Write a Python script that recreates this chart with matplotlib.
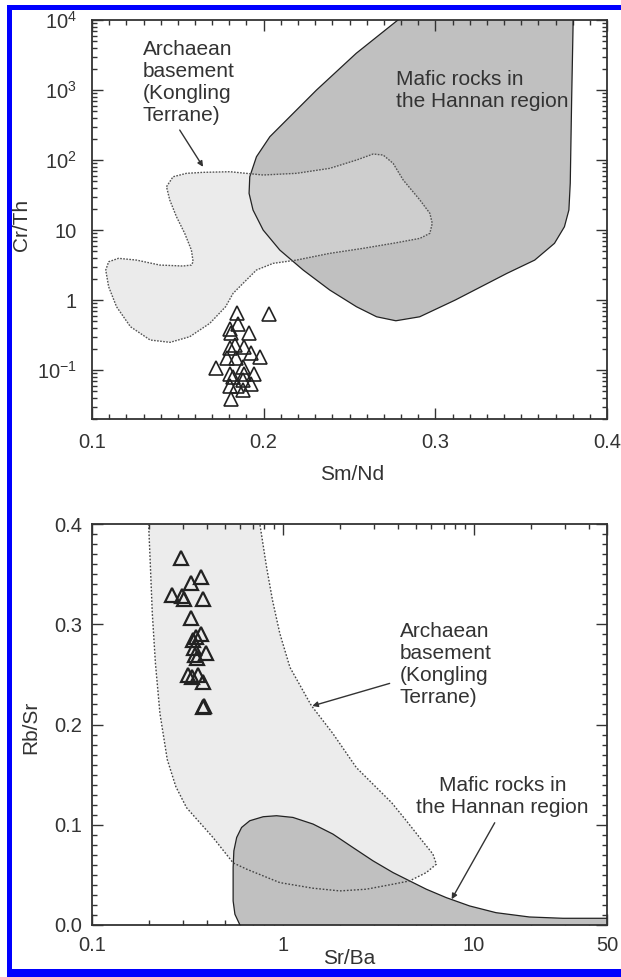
import matplotlib

matplotlib.use("Agg")
import matplotlib.pyplot as plt
import numpy as np
from matplotlib.patches import Rectangle
from matplotlib.ticker import FixedLocator, LogLocator, MultipleLocator, NullFormatter

plt.rcParams["font.family"] = ["Liberation Sans", "DejaVu Sans"]

W, H = 621, 977  # figure size in pixels (dpi 100)
INK = "#333333"
DARK_FILL = "#c0c0c0"
LIGHT_FILL = "#ececec"

# ---- Sm/Nd vs Cr/Th ----
smnd_samples = [0.1842, 0.2032, 0.1851, 0.1803, 0.1812, 0.1915, 0.1832, 0.1803, 0.1886,
                0.1929, 0.1977, 0.1789, 0.1838, 0.1721, 0.1880, 0.1803, 0.1886, 0.1944,
                0.1822, 0.1880, 0.1803, 0.1845, 0.1929, 0.1877, 0.1812]
crth_samples = [0.645, 0.625, 0.454, 0.381, 0.334, 0.334, 0.228, 0.204, 0.215,
                0.173, 0.152, 0.147, 0.147, 0.106, 0.109, 0.087, 0.087, 0.087,
                0.079, 0.072, 0.059, 0.059, 0.0625, 0.052, 0.038]

kongling_smnd = [0.1434, 0.1472, 0.1550, 0.1647, 0.1803, 0.1997, 0.2191, 0.2385, 0.2541,
                 0.2638, 0.2696, 0.2754, 0.2813, 0.2910, 0.2968, 0.2982, 0.2968, 0.2910,
                 0.2774, 0.2580, 0.2385, 0.2191, 0.2055, 0.1958, 0.1880, 0.1822, 0.1778,
                 0.1686, 0.1569, 0.1455, 0.1339, 0.1224, 0.1143, 0.1097, 0.1080, 0.1097,
                 0.1154, 0.1259, 0.1395, 0.1530, 0.1579, 0.1589, 0.1579, 0.1540, 0.1492,
                 0.1453]
kongling_crth_log = [1.619, 1.761, 1.810, 1.824, 1.833, 1.786, 1.810, 1.881, 2.000,
                     2.086, 2.071, 1.953, 1.714, 1.429, 1.239, 1.096, 0.953, 0.881,
                     0.819, 0.739, 0.667, 0.571, 0.524, 0.429, 0.239, 0.096, -0.096,
                     -0.333, -0.524, -0.604, -0.571, -0.381, -0.096, 0.190, 0.429, 0.547,
                     0.596, 0.571, 0.500, 0.486, 0.500, 0.547, 0.714, 0.953, 1.190,
                     1.429]

hannan_smnd = [0.2782, 0.2539, 0.2308, 0.2133, 0.2036, 0.1958, 0.1919, 0.1915, 0.1938,
               0.1997, 0.2094, 0.2230, 0.2385, 0.2541, 0.2658, 0.2770, 0.2909, 0.3116,
               0.3417, 0.3579, 0.3694, 0.3752, 0.3778, 0.3786, 0.3794, 0.3803]
hannan_crth_log = [4.0, 3.524, 3.0, 2.571, 2.333, 2.047, 1.761, 1.524, 1.286,
                   1.0, 0.714, 0.429, 0.143, -0.096, -0.239, -0.296, -0.239, 0.0,
                   0.381, 0.571, 0.810, 1.047, 1.286, 1.671, 2.857, 4.0]

# ---- Sr/Ba vs Rb/Sr ----
srba_samples = [0.291, 0.372, 0.329, 0.261, 0.298, 0.303, 0.383, 0.329, 0.351, 0.372,
                0.337, 0.342, 0.395, 0.346, 0.356, 0.319, 0.360, 0.333, 0.383, 0.383,
                0.386]
rbsr_samples = [0.366, 0.347, 0.341, 0.329, 0.328, 0.325, 0.325, 0.306, 0.287, 0.290,
                0.284, 0.276, 0.271, 0.269, 0.266, 0.249, 0.249, 0.247, 0.242, 0.217,
                0.218]

kongling_srba = [0.198, 0.202, 0.207, 0.215, 0.227, 0.248, 0.275, 0.313, 0.432, 0.549,
                 0.646, 0.789, 0.964, 1.44, 1.99, 2.74, 3.78, 4.62, 5.65, 6.38,
                 6.12, 5.21, 4.44, 3.72, 2.43, 1.83, 1.41, 1.09, 0.964, 0.883,
                 0.822, 0.758]
kongling_rbsr = [0.400, 0.361, 0.311, 0.261, 0.211, 0.165, 0.138, 0.117, 0.087, 0.062,
                 0.0557, 0.049, 0.0423, 0.0367, 0.034, 0.0357, 0.0407, 0.044, 0.0523, 0.0607,
                 0.0707, 0.0873, 0.104, 0.122, 0.157, 0.191, 0.219, 0.257, 0.291, 0.324,
                 0.357, 0.400]

hannan_srba = [0.596, 0.561, 0.549, 0.549, 0.554, 0.573, 0.608, 0.671, 0.789, 0.927,
               1.13, 1.44, 1.83, 2.33, 2.97, 3.78, 4.62, 5.65, 7.19, 9.53,
               13.1, 19.6, 29.4, 50.0]
hannan_rbsr = [0.0, 0.0107, 0.024, 0.0573, 0.074, 0.0873, 0.0973, 0.104, 0.108, 0.109,
               0.1073, 0.1007, 0.0907, 0.0773, 0.064, 0.0523, 0.044, 0.0357, 0.0273, 0.019,
               0.0123, 0.008, 0.0067, 0.0067]

top_yticks = [0.1, 1, 10, 100, 1000, 10000]
top_yticklabels = [r"$\mathregular{10^{-1}}$", "1", "10", r"$\mathregular{10^{2}}$",
                   r"$\mathregular{10^{3}}$", r"$\mathregular{10^{4}}$"]
bot_xticks = [0.1, 1, 10, 50]
bot_xticklabels = ["0.1", "1", "10", "50"]

TICK_FS = 14.5
TEXT_FS = 15


def fx(px):
    return px / W


def fy(py):
    return 1 - py / H


def style(ax, xpad, ypad):
    ax.tick_params(which="both", direction="in", top=True, right=True,
                   colors=INK, labelsize=TICK_FS, width=1.0)
    ax.tick_params(which="major", length=8)
    ax.tick_params(which="minor", length=3.6)
    ax.tick_params(axis="x", pad=xpad)
    ax.tick_params(axis="y", pad=ypad)
    for s in ax.spines.values():
        s.set_linewidth(1.3)
        s.set_color(INK)


def arrow(ax, tip, tail):
    ax.annotate("", xy=tip, xytext=tail,
                arrowprops=dict(arrowstyle="-|>", color=INK, lw=1.0, mutation_scale=8,
                                shrinkA=0, shrinkB=0))


fig = plt.figure(figsize=(W / 100, H / 100), dpi=100)
ax1 = fig.add_axes([fx(92), fy(419), fx(607) - fx(92), fy(20) - fy(419)])
ax2 = fig.add_axes([fx(92), fy(925), fx(607) - fx(92), fy(524) - fy(925)])

# top panel
ax1.set_yscale("log")
ax1.set_xlim(0.1, 0.4)
ax1.set_ylim(0.02, 1e4)
crth_k = 10 ** np.array(kongling_crth_log)
crth_h = 10 ** np.array(hannan_crth_log)
ax1.fill(hannan_smnd, crth_h, facecolor=DARK_FILL, edgecolor="none", zorder=1)
ax1.fill(kongling_smnd, crth_k, facecolor="#dbdbdb", alpha=0.55, edgecolor="none", zorder=2)
ax1.plot(hannan_smnd, crth_h, color="#222222", lw=0.9, zorder=3)
ax1.plot(kongling_smnd + kongling_smnd[:1], np.append(crth_k, crth_k[0]),
         color="#555555", lw=1.0, ls=(0, (1.2, 1.0)), zorder=3)
ax1.plot(smnd_samples, crth_samples, ls="none", marker="^", ms=10,
         mfc="none", mec="#222222", mew=1.2, zorder=4)

ax1.xaxis.set_major_locator(MultipleLocator(0.1))
ax1.xaxis.set_minor_locator(MultipleLocator(0.01))
ax1.xaxis.set_major_formatter(plt.FuncFormatter(lambda v, p: f"{v:.1f}"))
ax1.yaxis.set_major_locator(FixedLocator(top_yticks))
ax1.set_yticklabels(top_yticklabels)
ax1.yaxis.set_minor_locator(LogLocator(base=10, subs=np.arange(2, 10), numticks=30))
ax1.yaxis.set_minor_formatter(NullFormatter())
style(ax1, xpad=10, ypad=11)

ax1.text(0.1297, 5200, "Archaean\nbasement\n(Kongling\nTerrane)", ha="left", va="top",
         fontsize=TEXT_FS, color=INK, linespacing=1.2)
ax1.text(0.277, 1900, "Mafic rocks in\nthe Hannan region", ha="left", va="top",
         fontsize=TEXT_FS, color=INK, linespacing=1.2)
arrow(ax1, (0.1647, 80), (0.1511, 268))

# bottom panel
ax2.set_xscale("log")
ax2.set_xlim(0.1, 50)
ax2.set_ylim(0, 0.4)
ax2.fill(kongling_srba, kongling_rbsr, facecolor=LIGHT_FILL, edgecolor="none", zorder=1)
ax2.fill(hannan_srba + [50.0, hannan_srba[0]], hannan_rbsr + [0.0, 0.0],
         facecolor=DARK_FILL, edgecolor="none", zorder=2)
ax2.plot(hannan_srba, hannan_rbsr, color="#222222", lw=0.9, zorder=3)
ax2.plot(kongling_srba + kongling_srba[:1], kongling_rbsr + kongling_rbsr[:1],
         color="#444444", lw=1.0, ls=(0, (1.2, 1.3)), zorder=3)
ax2.plot(srba_samples, rbsr_samples, ls="none", marker="^", ms=10,
         mfc="none", mec="#222222", mew=1.6, zorder=4)

ax2.xaxis.set_major_locator(FixedLocator(bot_xticks))
ax2.set_xticklabels(bot_xticklabels)
ax2.xaxis.set_minor_locator(LogLocator(base=10, subs=np.arange(2, 10), numticks=30))
ax2.xaxis.set_minor_formatter(NullFormatter())
ax2.yaxis.set_major_locator(MultipleLocator(0.1))
ax2.yaxis.set_minor_locator(MultipleLocator(0.01))
ax2.yaxis.set_major_formatter(plt.FuncFormatter(lambda v, p: f"{v:.1f}"))
style(ax2, xpad=8, ypad=7)

ax2.text(4.10, 0.302, "Archaean\nbasement\n(Kongling\nTerrane)", ha="left", va="top",
         fontsize=TEXT_FS, color=INK, linespacing=1.2)
ax2.text(14.2, 0.149, "Mafic rocks in\nthe Hannan region", ha="center", va="top",
         fontsize=TEXT_FS, color=INK, linespacing=1.2)
arrow(ax2, (1.427, 0.2185), (3.63, 0.241))
arrow(ax2, (7.67, 0.0257), (12.9, 0.102))

# axis titles
fig.text(fx(352), fy(475), "Sm/Nd", ha="center", va="center", fontsize=TEXT_FS, color=INK)
fig.text(fx(22), fy(225), "Cr/Th", ha="center", va="center", rotation=90,
         fontsize=TEXT_FS, color=INK)
fig.text(fx(349), fy(959), "Sr/Ba", ha="center", va="center", fontsize=TEXT_FS, color=INK)
fig.text(fx(31), fy(727), "Rb/Sr", ha="center", va="center", rotation=90,
         fontsize=TEXT_FS, color=INK)

# blue frame (open on the right)
BLUE = "#0000ff"
for x0, y0, x1, y1 in [(6.5, 5, 11.5, 977), (6.5, 5, 621, 10), (6.5, 969, 621, 977)]:
    fig.add_artist(Rectangle((fx(x0), fy(y1)), fx(x1) - fx(x0), fy(y0) - fy(y1),
                             transform=fig.transFigure, facecolor=BLUE, edgecolor="none"))

fig.savefig("out.png", dpi=100)
